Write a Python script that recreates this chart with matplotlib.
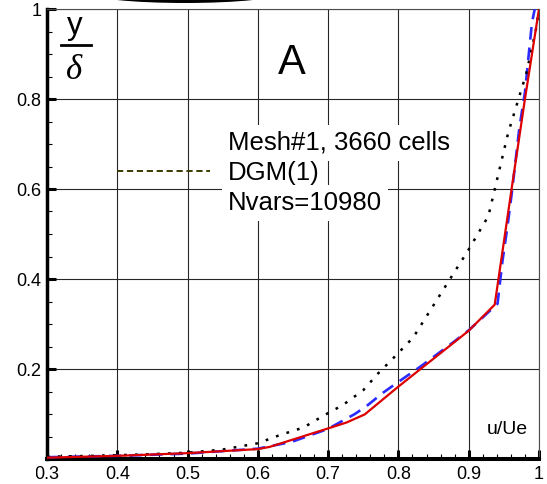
import matplotlib
matplotlib.use('Agg')
import matplotlib.pyplot as plt
from matplotlib.patches import Ellipse, Rectangle
from matplotlib.lines import Line2D
from matplotlib.ticker import FixedLocator, MultipleLocator

# boundary layer velocity profiles: u/Ue (x) against y/delta (y)
u_dotted = [0.3, 0.365, 0.435, 0.5, 0.55, 0.6, 0.631, 0.665, 0.693, 0.721,
            0.75, 0.771, 0.797, 0.821, 0.873, 0.899, 0.928, 0.956, 0.982, 0.996, 1.0]
y_dotted = [0.005, 0.007, 0.010, 0.014, 0.021, 0.035, 0.053, 0.07, 0.096, 0.12,
            0.153, 0.19, 0.231, 0.27, 0.399, 0.463, 0.54, 0.724, 0.857, 0.957, 1.0]

u_dashed = [0.3, 0.4, 0.5, 0.6, 0.648, 0.7, 0.738, 0.755, 0.777, 0.795, 0.831,
            0.876, 0.9, 0.941, 0.948, 0.955, 0.962, 0.972, 0.98, 0.99, 0.994]
y_dashed = [0.004, 0.007, 0.012, 0.023, 0.038, 0.067, 0.10, 0.118, 0.146, 0.166, 0.205,
            0.257, 0.286, 0.345, 0.44, 0.515, 0.6, 0.735, 0.815, 0.97, 1.0]

u_solid = [0.3, 0.4, 0.5, 0.6, 0.617, 0.7, 0.726, 0.752, 0.8, 0.9, 0.937,
           0.961, 0.98, 1.0]
y_solid = [0.003, 0.007, 0.013, 0.022, 0.027, 0.068, 0.081, 0.099, 0.161, 0.285, 0.343,
           0.60, 0.80, 1.0]

x_ticks = [0.3, 0.4, 0.5, 0.6, 0.7, 0.8, 0.9, 1.0]
x_labels = ['0.3', '0.4', '0.5', '0.6', '0.7', '0.8', '0.9', '1']
y_ticks = [0.0, 0.2, 0.4, 0.6, 0.8, 1.0]
y_labels = ['', '0.2', '0.4', '0.6', '0.8', '1']

legend_lines = ['Mesh#1, 3660 cells', 'DGM(1)', 'Nvars=10980']
panel_label = 'A'
x_title = 'u/Ue'
caption = 'Fig. 4. (a) Velocity profiles at station A'

W, H = 547, 484
plt.rcParams['font.family'] = ['Liberation Sans', 'DejaVu Sans']

fig = plt.figure(figsize=(W / 100, H / 100), dpi=100)
ax = fig.add_axes([47 / W, 25 / H, 492 / W, 450 / H])

ax.plot(u_dashed, y_dashed, color='#2b2bff', lw=1.9, dashes=(4.8, 3.0), zorder=3)
ax.plot(u_dotted, y_dotted, color='black', lw=1.8, dashes=(1.1, 3.3), zorder=3)
ax.plot(u_solid, y_solid, color='#dd0000', lw=1.6, zorder=4)

ax.set_xlim(0.3, 1.0)
ax.set_ylim(0.0, 1.0)
ax.xaxis.set_major_locator(FixedLocator(x_ticks))
ax.yaxis.set_major_locator(FixedLocator(y_ticks))
ax.set_xticklabels(x_labels)
ax.set_yticklabels(y_labels)
ax.xaxis.set_minor_locator(MultipleLocator(0.02))
ax.yaxis.set_minor_locator(MultipleLocator(0.05))
ax.tick_params(which='major', direction='in', length=6.5, width=2.2,
               labelsize=13, pad=4, color='black')
ax.tick_params(axis='x', which='major', pad=5)
ax.tick_params(which='minor', direction='in', length=3.6, width=0.8)
ax.tick_params(axis='x', which='both', top=False)
ax.tick_params(axis='y', which='both', right=False)

ax.set_axisbelow(True)
ax.grid(True, which='major', color='0.15', lw=0.8)
ax.spines['left'].set_linewidth(2.5)
ax.spines['bottom'].set_linewidth(2.9)
ax.spines['top'].set_linewidth(0.8)
ax.spines['right'].set_linewidth(0.8)
ax.spines['top'].set_color('0.3')
ax.spines['right'].set_color('0.3')

# legend key and the three text lines, each on its own white box
ax.plot([0.4, 0.532], [0.641, 0.641], color='#3a3a00', lw=1.4, dashes=(3.2, 1.9), zorder=3)
for i, line in enumerate(legend_lines):
    ax.text(0.5575, 0.687 - i * 0.0667, line, fontsize=18.5, ha='left', va='baseline',
            zorder=5, bbox=dict(boxstyle='square,pad=0.22', fc='white', ec='none'))

ax.text(0.6486, 0.856, panel_label, fontsize=30, ha='center', va='baseline')
ax.text(0.926, 0.0556, x_title, fontsize=14, ha='left', va='baseline')

# y / delta label drawn as a small fraction
ax.text(0.340, 0.945, 'y', fontsize=22.5, ha='center', va='baseline')
ax.add_line(Line2D([14 / 492, 44 / 492], [414 / 450, 414 / 450], transform=ax.transAxes,
                   color='black', lw=2.0, clip_on=False))
ax.text(0.3385, 0.8444, '\u03b4', fontsize=25, ha='center', va='baseline',
        family='Liberation Serif', style='italic')

# artefacts of the cropped page: shadow at top, clipped caption below
fig.add_artist(Ellipse((185 / W, 1 + 7 / H), 190 / W, 20 / H, transform=fig.transFigure,
                       fc='black', ec='none'))
fig.text(92 / W, -15 / H, caption, fontsize=15, ha='left', va='baseline')
fig.add_artist(Rectangle((0, 4 / H), 36 / W, 20 / H, transform=fig.transFigure,
                         fc='white', ec='none', zorder=10))

fig.savefig('out.png', dpi=100)
